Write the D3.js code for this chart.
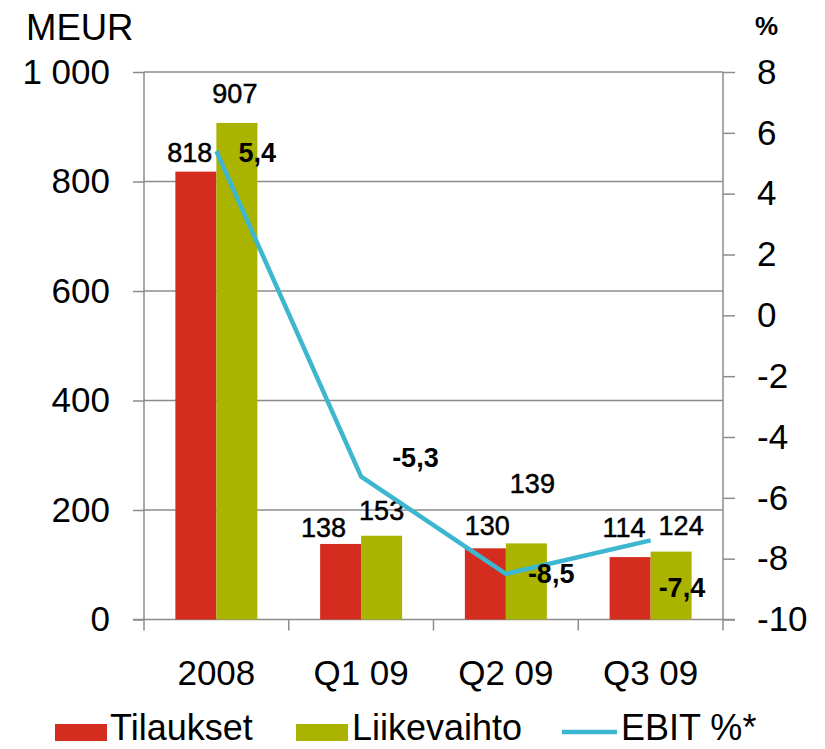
<!DOCTYPE html>
<html>
<head>
  <meta charset="utf-8">
  <script src="https://d3js.org/d3.v7.min.js"></script>
  <style>
    body { margin: 0; background: #fff; }
    svg { font-family: 'Liberation Sans', Arial, sans-serif; }
    .tick text { fill: #000; }
  </style>
</head>
<body>
  <svg id="chart" width="825" height="749"></svg>
  <script>
    // data
    const categories = ["2008", "Q1 09", "Q2 09", "Q3 09"];
    const seriesNames = ["Tilaukset", "Liikevaihto"];
    const tilaukset = [818, 138, 130, 114];
    const liikevaihto = [907, 153, 139, 124];
    const ebit = [5.4, -5.3, -8.5, -7.4];
    const leftTicks = [0, 200, 400, 600, 800, 1000];
    const rightTicks = [-10, -8, -6, -4, -2, 0, 2, 4, 6, 8];

    // label nudges (layout only)
    const barLabelNudge = [
      [[-6, -10], [-2, -20]],
      [[-17, -7], [0, -16]],
      [[2, -13], [6, -50]],
      [[-6, -20], [10, -17]]
    ];
    const lineLabelNudge = [[22, 11], [31, -10], [22, 9], [8, 57]];

    const colors = { Tilaukset: "#d42d20", Liikevaihto: "#a9b300", line: "#3db6cf", grid: "#8c8c8c" };

    const svg = d3.select("#chart");
    const plotLeft = 144, plotRight = 723, plotTop = 72, plotBottom = 619.5;

    const x0 = d3.scaleBand().domain(categories).range([plotLeft, plotRight]).padding(0);
    const x1 = d3.scaleBand().domain(seriesNames).range([0, x0.bandwidth()])
      .paddingInner(0).paddingOuter(0.765);
    const y = d3.scaleLinear().domain([0, 1000]).range([plotBottom, plotTop]);
    const y2 = d3.scaleLinear().domain([-10, 8]).range([plotBottom, plotTop]);

    // gridlines
    svg.append("g")
      .selectAll("line")
      .data(leftTicks.filter(d => d > 0))
      .enter().append("line")
      .attr("x1", plotLeft).attr("x2", plotRight)
      .attr("y1", d => y(d)).attr("y2", d => y(d))
      .attr("stroke", colors.grid).attr("stroke-width", 1.5);

    // left axis
    const fmt = d => d3.format(",")(d).replace(/,/g, " ");
    const gl = svg.append("g")
      .attr("transform", `translate(${plotLeft},0)`)
      .call(d3.axisLeft(y).tickValues(leftTicks).tickFormat(fmt).tickSize(11).tickPadding(23));
    gl.select(".domain").remove();
    gl.selectAll(".tick line").attr("stroke", colors.grid).attr("stroke-width", 1.5);
    gl.selectAll(".tick text").attr("font-size", 35).attr("font-family", "'Liberation Sans', Arial, sans-serif");

    // right axis
    const gr = svg.append("g")
      .attr("transform", `translate(${plotRight},0)`)
      .call(d3.axisRight(y2).tickValues(rightTicks).tickFormat(d => String(d)).tickSize(12).tickPadding(22));
    gr.select(".domain").remove();
    gr.selectAll(".tick line").attr("stroke", colors.grid).attr("stroke-width", 1.5);
    gr.selectAll(".tick text").attr("font-size", 35).attr("font-family", "'Liberation Sans', Arial, sans-serif");

    // axis lines
    svg.append("line").attr("x1", plotLeft).attr("x2", plotLeft).attr("y1", plotTop).attr("y2", plotBottom + 11)
      .attr("stroke", colors.grid).attr("stroke-width", 1.5);
    svg.append("line").attr("x1", plotRight).attr("x2", plotRight).attr("y1", plotTop).attr("y2", plotBottom + 11)
      .attr("stroke", colors.grid).attr("stroke-width", 1.5);
    svg.append("line").attr("x1", plotLeft - 11).attr("x2", plotRight + 12).attr("y1", plotBottom).attr("y2", plotBottom)
      .attr("stroke", colors.grid).attr("stroke-width", 1.5);

    // category boundary ticks
    svg.append("g").selectAll("line")
      .data(categories.slice(1))
      .enter().append("line")
      .attr("x1", d => x0(d)).attr("x2", d => x0(d))
      .attr("y1", plotBottom).attr("y2", plotBottom + 11)
      .attr("stroke", colors.grid).attr("stroke-width", 1.5);

    // category labels
    svg.append("g").selectAll("text")
      .data(categories)
      .enter().append("text")
      .attr("x", d => x0(d) + x0.bandwidth() / 2)
      .attr("y", 685)
      .attr("text-anchor", "middle")
      .attr("font-size", 35)
      .text(d => d);

    // bars
    const rows = categories.map((c, i) => ({ cat: c, i, values: [
      { key: "Tilaukset", value: tilaukset[i], j: 0 },
      { key: "Liikevaihto", value: liikevaihto[i], j: 1 }
    ] }));

    const groups = svg.append("g").selectAll("g")
      .data(rows)
      .enter().append("g")
      .attr("transform", d => `translate(${x0(d.cat)},0)`);

    groups.selectAll("rect")
      .data(d => d.values)
      .enter().append("rect")
      .attr("x", d => x1(d.key))
      .attr("width", x1.bandwidth())
      .attr("y", d => y(d.value))
      .attr("height", d => y(0) - y(d.value))
      .attr("fill", d => colors[d.key]);

    // EBIT line
    const line = d3.line()
      .x((d, i) => x0(categories[i]) + x0.bandwidth() / 2)
      .y(d => y2(d));
    svg.append("path")
      .datum(ebit)
      .attr("d", line)
      .attr("fill", "none")
      .attr("stroke", colors.line)
      .attr("stroke-width", 4.5)
      .attr("stroke-linejoin", "round");

    // bar value labels
    groups.each(function(row) {
      d3.select(this).selectAll("text.bar-label")
        .data(row.values)
        .enter().append("text")
        .attr("class", "bar-label")
        .attr("x", d => x1(d.key) + x1.bandwidth() / 2 + barLabelNudge[row.i][d.j][0])
        .attr("y", d => y(d.value) + barLabelNudge[row.i][d.j][1])
        .attr("text-anchor", "middle")
        .attr("font-size", 27)
        .attr("stroke", "#000")
        .attr("stroke-width", 0.5)
        .text(d => d.value);
    });

    // EBIT labels
    svg.append("g").selectAll("text")
      .data(ebit)
      .enter().append("text")
      .attr("x", (d, i) => x0(categories[i]) + x0.bandwidth() / 2 + lineLabelNudge[i][0])
      .attr("y", (d, i) => y2(d) + lineLabelNudge[i][1])
      .attr("font-size", 27)
      .attr("font-weight", "bold")
      .text(d => d3.format(".1f")(d).replace(".", ",").replace("−", "-"));

    // axis titles
    svg.append("text").attr("x", 26).attr("y", 40).attr("font-size", 36.5).text("MEUR");
    svg.append("text").attr("x", 755).attr("y", 35).attr("font-size", 26).attr("font-weight", "bold").text("%");

    // legend
    const legend = svg.append("g");
    legend.append("rect").attr("x", 55).attr("y", 724).attr("width", 52).attr("height", 17).attr("fill", colors.Tilaukset);
    legend.append("text").attr("x", 110).attr("y", 740).attr("font-size", 36).text("Tilaukset");
    legend.append("rect").attr("x", 296).attr("y", 724).attr("width", 52).attr("height", 17).attr("fill", colors.Liikevaihto);
    legend.append("text").attr("x", 352).attr("y", 740).attr("font-size", 36).text("Liikevaihto");
    legend.append("line").attr("x1", 562).attr("x2", 617).attr("y1", 732).attr("y2", 732)
      .attr("stroke", colors.line).attr("stroke-width", 4.5);
    legend.append("text").attr("x", 621).attr("y", 740).attr("font-size", 36).text("EBIT %*");
  </script>
</body>
</html>
